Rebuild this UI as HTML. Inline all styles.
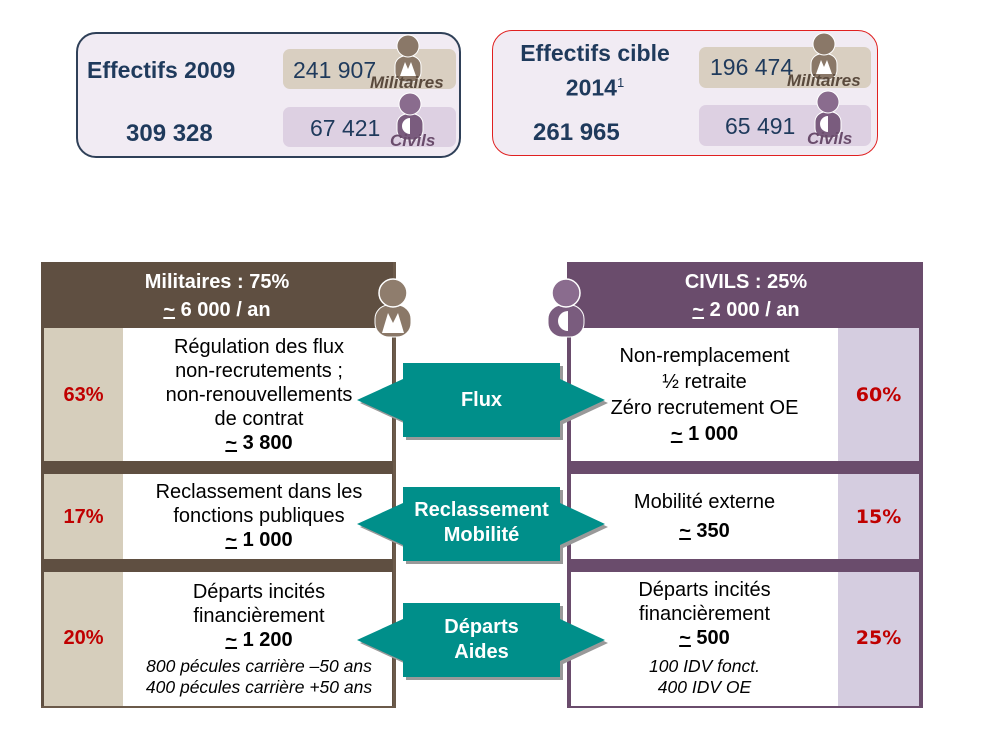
<!DOCTYPE html>
<html><head><meta charset="utf-8"><style>
body{margin:0;width:995px;height:745px;background:#fff;position:relative;overflow:hidden;font-family:"Liberation Sans",Arial,sans-serif}
.a{position:absolute}
.c{text-align:center}
.box{position:absolute;background:#f1ebf3;border-radius:20px}
.pill{position:absolute;border-radius:7px}
.num{color:#1f3a5c;font-size:23px}
.big{color:#1f3a5c;font-weight:bold;font-size:23px}
.t{color:#000;font-size:20px;line-height:24px}
.pct{font-weight:bold;color:#c00000;font-size:20px}
.rp{font-weight:bold;color:#c00000;font-size:19px;font-family:'DejaVu Sans',sans-serif}
.wh{color:#fff;font-weight:bold;font-size:20px;line-height:28px}
.it{font-style:italic;font-size:17.5px;line-height:21px}
.lab{font-style:italic;font-weight:bold;font-size:17px}
</style></head><body>
<!-- top boxes -->
<div class="box" style="left:76px;top:32px;width:381px;height:122px;border:2px solid #2f4058"></div>
<div class="pill" style="left:283px;top:49px;width:173px;height:40px;background:#d9cfc1"></div>
<div class="pill" style="left:283px;top:107px;width:173px;height:40px;background:#ddd0e2"></div>
<div class="a big" style="left:87px;top:57px">Effectifs 2009</div>
<div class="a big" style="left:126px;top:120px;font-size:24px">309 328</div>
<div class="a num" style="left:293px;top:57px">241 907</div>
<div class="a num" style="left:310px;top:115px">67 421</div>

<div class="box" style="left:492px;top:30px;width:384px;height:124px;border:1.5px solid #e02020"></div>
<div class="pill" style="left:699px;top:47px;width:172px;height:41px;background:#d9cfc1"></div>
<div class="pill" style="left:699px;top:105px;width:172px;height:41px;background:#ddd0e2"></div>
<div class="a big c" style="left:500px;top:38px;width:190px;line-height:30px">Effectifs cible<br>2014<sup style="font-size:13px;font-weight:normal">1</sup></div>
<div class="a big" style="left:533px;top:119px;font-size:24px">261 965</div>
<div class="a num" style="left:710px;top:54px">196 474</div>
<div class="a num" style="left:725px;top:113px">65 491</div>

<!-- person icons -->
<svg class="a" style="left:0;top:0" width="995" height="745">
<defs>
<g id="pm"><rect x="-13" y="10" width="26" height="26" rx="10" fill="#8a7868" stroke="#fff" stroke-width="1"/><circle cx="0" cy="0" r="11" fill="#8a7868" stroke="#fff" stroke-width="1"/><path d="M-8 30 L-3 16 L0 23 L3 16 L8 30Z" fill="#fff"/></g>
<g id="pc"><rect x="-13" y="10" width="26" height="26" rx="10" fill="#7a5c7e" stroke="#fff" stroke-width="1"/><circle cx="0" cy="0" r="11" fill="#8a6c8e" stroke="#fff" stroke-width="1"/><path d="M0 14 A8 8 0 0 0 0 30Z" fill="#fff"/></g>
</defs>
<use href="#pm" x="408" y="46"/>
<use href="#pc" x="410" y="104"/>
<use href="#pm" x="824" y="44"/>
<use href="#pc" x="828" y="102"/>
</svg>
<div class="a lab" style="left:370px;top:73px;color:#5a4a3d">Militaires</div>
<div class="a lab" style="left:390px;top:131px;color:#6a4c6c">Civils</div>
<div class="a lab" style="left:787px;top:71px;color:#5a4a3d">Militaires</div>
<div class="a lab" style="left:807px;top:129px;color:#6a4c6c">Civils</div>

<!-- left panel -->
<div class="a" style="left:41px;top:262px;width:352px;height:444px;background:#5f4f41;border-right:3px solid #6b5a4a;border-bottom:2px solid #6b5a4a"></div>
<div class="a" style="left:44px;top:328px;width:79px;height:133px;background:#d6cebc"></div>
<div class="a" style="left:123px;top:328px;width:269px;height:133px;background:#fff"></div>
<div class="a" style="left:44px;top:474px;width:79px;height:85px;background:#d6cebc"></div>
<div class="a" style="left:123px;top:474px;width:269px;height:85px;background:#fff"></div>
<div class="a" style="left:44px;top:572px;width:79px;height:134px;background:#d6cebc"></div>
<div class="a" style="left:123px;top:572px;width:269px;height:134px;background:#fff"></div>
<div class="a wh c" style="left:41px;top:268px;width:352px">Militaires : 75%<br><u>~</u> 6 000 / an</div>
<div class="a pct c" style="left:44px;top:384px;width:79px">63%</div>
<div class="a pct c" style="left:44px;top:506px;width:79px">17%</div>
<div class="a pct c" style="left:44px;top:627px;width:79px">20%</div>
<div class="a t c" style="left:123px;top:335px;width:272px">Régulation des flux<br>non-recrutements ;<br>non-renouvellements<br>de contrat<br><b><u>~</u> 3 800</b></div>
<div class="a t c" style="left:123px;top:480px;width:272px">Reclassement dans les<br>fonctions publiques<br><b><u>~</u> 1 000</b></div>
<div class="a t c" style="left:123px;top:580px;width:272px">Départs incités<br>financièrement<br><b><u>~</u> 1 200</b></div>
<div class="a c it" style="left:123px;top:656px;width:272px">800 pécules carrière –50 ans<br>400 pécules carrière +50 ans</div>

<!-- right panel -->
<div class="a" style="left:567px;top:262px;width:352px;height:444px;background:#6a4c6c;border-left:2px solid #6a4c6c;border-right:2px solid #6a4c6c;border-bottom:2px solid #6a4c6c"></div>
<div class="a" style="left:571px;top:328px;width:267px;height:133px;background:#fff"></div>
<div class="a" style="left:838px;top:328px;width:81px;height:133px;background:#d5cde0"></div>
<div class="a" style="left:571px;top:474px;width:267px;height:85px;background:#fff"></div>
<div class="a" style="left:838px;top:474px;width:81px;height:85px;background:#d5cde0"></div>
<div class="a" style="left:571px;top:572px;width:267px;height:134px;background:#fff"></div>
<div class="a" style="left:838px;top:572px;width:81px;height:134px;background:#d5cde0"></div>
<div class="a wh c" style="left:571px;top:268px;width:350px">CIVILS : 25%<br><u>~</u> 2 000 / an</div>
<div class="a rp c" style="left:838px;top:384px;width:81px">60%</div>
<div class="a rp c" style="left:838px;top:506px;width:81px">15%</div>
<div class="a rp c" style="left:838px;top:627px;width:81px">25%</div>
<div class="a t c" style="left:571px;top:343px;width:267px;line-height:26px">Non-remplacement<br>½ retraite<br>Zéro recrutement OE<br><b><u>~</u> 1 000</b></div>
<div class="a t c" style="left:571px;top:488px;width:267px;line-height:29px">Mobilité externe<br><b><u>~</u> 350</b></div>
<div class="a t c" style="left:571px;top:578px;width:267px">Départs incités<br>financièrement<br><b><u>~</u> 500</b></div>
<div class="a c it" style="left:571px;top:656px;width:267px">100 IDV fonct.<br>400 IDV OE</div>

<!-- icons on panels -->
<svg class="a" style="left:0;top:0" width="995" height="745">
<defs>
<g id="bm"><rect x="-18" y="12" width="36" height="32" rx="14" fill="#8a7868" stroke="#fff" stroke-width="1"/><circle cx="0" cy="0" r="14" fill="#8f7d6d" stroke="#fff" stroke-width="1.5"/><path d="M-11 40 L-5 20 L0 30 L5 20 L11 40Z" fill="#fff"/></g>
<g id="bc"><rect x="-18" y="12" width="36" height="32" rx="14" fill="#7a5c7e" stroke="#fff" stroke-width="1"/><circle cx="0" cy="0" r="14" fill="#8a6c8e" stroke="#fff" stroke-width="1.5"/><path d="M2 18 A10 10 0 0 0 2 38Z" fill="#fff"/></g>
<g id="arr"><path d="M0 0 L46 -21 L46 -13 L46 -37 L203 -37 L203 -13 L203 -21 L248 0 L203 21 L203 13 L203 37 L46 37 L46 13 L46 21Z"/></g>
</defs>
<use href="#bm" x="393" y="293"/>
<use href="#bc" x="566" y="293"/>
<g fill="#999" transform="translate(3,3)">
<use href="#arr" x="357" y="400"/><use href="#arr" x="357" y="524"/><use href="#arr" x="357" y="640"/>
</g>
<g fill="#008f8a">
<use href="#arr" x="357" y="400"/><use href="#arr" x="357" y="524"/><use href="#arr" x="357" y="640"/>
</g>
</svg>
<div class="a wh c" style="left:403px;top:386px;width:157px">Flux</div>
<div class="a wh c" style="left:403px;top:498px;width:157px;line-height:25px">Reclassement<br>Mobilité</div>
<div class="a wh c" style="left:403px;top:615px;width:157px;line-height:25px">Départs<br>Aides</div>
</body></html>
